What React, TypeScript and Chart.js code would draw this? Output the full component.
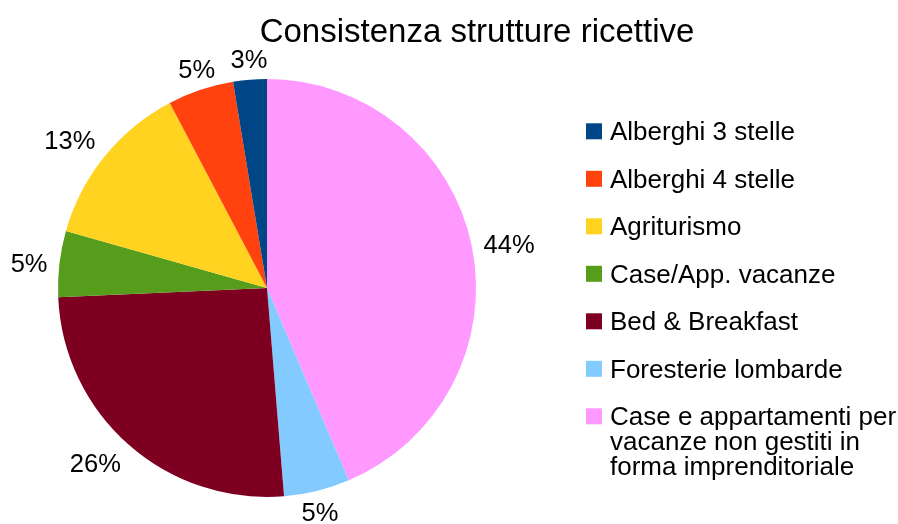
import React, { useEffect, useRef } from "react";
import { Chart, registerables } from "chart.js";

Chart.register(...registerables);

const TITLE = "Consistenza strutture ricettive";

// Legend order (as in the reference legend)
const categories = [
  "Alberghi 3 stelle",
  "Alberghi 4 stelle",
  "Agriturismo",
  "Case/App. vacanze",
  "Bed & Breakfast",
  "Foresterie lombarde",
  "Case e appartamenti per vacanze non gestiti in forma imprenditoriale",
];
const values = [2.6, 5.1, 12.9, 5.1, 25.6, 5.1, 43.6];
const colors = ["#004586", "#ff420e", "#ffd320", "#579d1c", "#7e0021", "#83caff", "#ff99ff"];

const FONT = '"Liberation Sans", Arial, sans-serif';

const titlePlugin = {
  id: "customTitle",
  afterDraw(chart: any) {
    const ctx = chart.ctx;
    ctx.save();
    ctx.font = `33px ${FONT}`;
    ctx.fillStyle = "#000";
    ctx.textAlign = "center";
    ctx.textBaseline = "alphabetic";
    ctx.fillText(TITLE, 477, 42);
    ctx.restore();
  },
};

const pctLabelPlugin = {
  id: "pctLabels",
  afterDatasetsDraw(chart: any) {
    const ctx = chart.ctx;
    const meta = chart.getDatasetMeta(0);
    const data = chart.data.datasets[0].data as number[];
    const total = data.reduce((a: number, b: number) => a + b, 0);
    ctx.save();
    ctx.font = `25.5px ${FONT}`;
    ctx.fillStyle = "#000";
    ctx.textAlign = "left";
    ctx.textBaseline = "alphabetic";
    const capH = 18.5;
    meta.data.forEach((arc: any, i: number) => {
      const { x, y, startAngle, endAngle, outerRadius } = arc.getProps(
        ["x", "y", "startAngle", "endAngle", "outerRadius"],
        true
      );
      const mid = (startAngle + endAngle) / 2;
      const dx = Math.cos(mid);
      const dy = Math.sin(mid);
      const r = outerRadius + 12;
      const ax = x + dx * r;
      const ay = y + dy * r;
      const text = Math.round((data[i] / total) * 100) + "%";
      const w = ctx.measureText(text).width;
      let left: number;
      if (dx > 0.383) left = ax;
      else if (dx < -0.383) left = ax - w;
      else left = ax - w / 2;
      let base: number;
      if (dy > 0.383) base = ay + capH;
      else if (dy < -0.383) base = ay;
      else base = ay + capH / 2;
      ctx.fillText(text, left, base);
    });
    ctx.restore();
  },
};

function wrap(ctx: CanvasRenderingContext2D, text: string, maxW: number): string[] {
  const words = text.split(" ");
  const lines: string[] = [];
  let cur = "";
  for (const w of words) {
    const test = cur ? cur + " " + w : w;
    if (ctx.measureText(test).width > maxW && cur) {
      lines.push(cur);
      cur = w;
    } else cur = test;
  }
  if (cur) lines.push(cur);
  return lines;
}

const legendPlugin = {
  id: "customLegend",
  afterDraw(chart: any) {
    const ctx = chart.ctx;
    ctx.save();
    ctx.font = `26px ${FONT}`;
    ctx.textAlign = "left";
    ctx.textBaseline = "alphabetic";
    const boxX = 586;
    const textX = 610;
    const top0 = 123.3;
    const step = 47.5;
    const box = 16;
    categories.forEach((cat, i) => {
      const t = top0 + i * step;
      ctx.fillStyle = colors[i];
      ctx.fillRect(boxX, t, box, box);
      ctx.fillStyle = "#000";
      const lines = wrap(ctx, cat, 288);
      lines.forEach((ln, j) => {
        ctx.fillText(ln, textX, t + 16.7 + j * 25.2);
      });
    });
    ctx.restore();
  },
};

export default function App() {
  const ref = useRef<HTMLCanvasElement | null>(null);

  useEffect(() => {
    if (!ref.current) return;
    // LibreOffice draws counter-clockwise from the top; Chart.js draws clockwise,
    // so the dataset is fed in reverse legend order.
    const dsLabels = [...categories].reverse();
    const dsValues = [...values].reverse();
    const dsColors = [...colors].reverse();
    const chart = new Chart(ref.current, {
      type: "pie",
      data: {
        labels: dsLabels,
        datasets: [
          {
            data: dsValues,
            backgroundColor: dsColors,
            borderWidth: 0,
            hoverOffset: 0,
          },
        ],
      },
      options: {
        responsive: false,
        animation: false,
        rotation: 0,
        layout: { padding: { left: 58, right: 422, top: 79, bottom: 27 } },
        events: [],
        plugins: {
          legend: { display: false },
          title: { display: false },
          tooltip: { enabled: false },
        },
      },
      plugins: [pctLabelPlugin, titlePlugin, legendPlugin],
    });
    return () => chart.destroy();
  }, []);

  return (
    <div
      style={{
        position: "absolute",
        left: 0,
        top: 0,
        width: 898,
        height: 524,
        background: "#fff",
      }}
    >
      <canvas ref={ref} width={898} height={524} style={{ display: "block" }} />
    </div>
  );
}
